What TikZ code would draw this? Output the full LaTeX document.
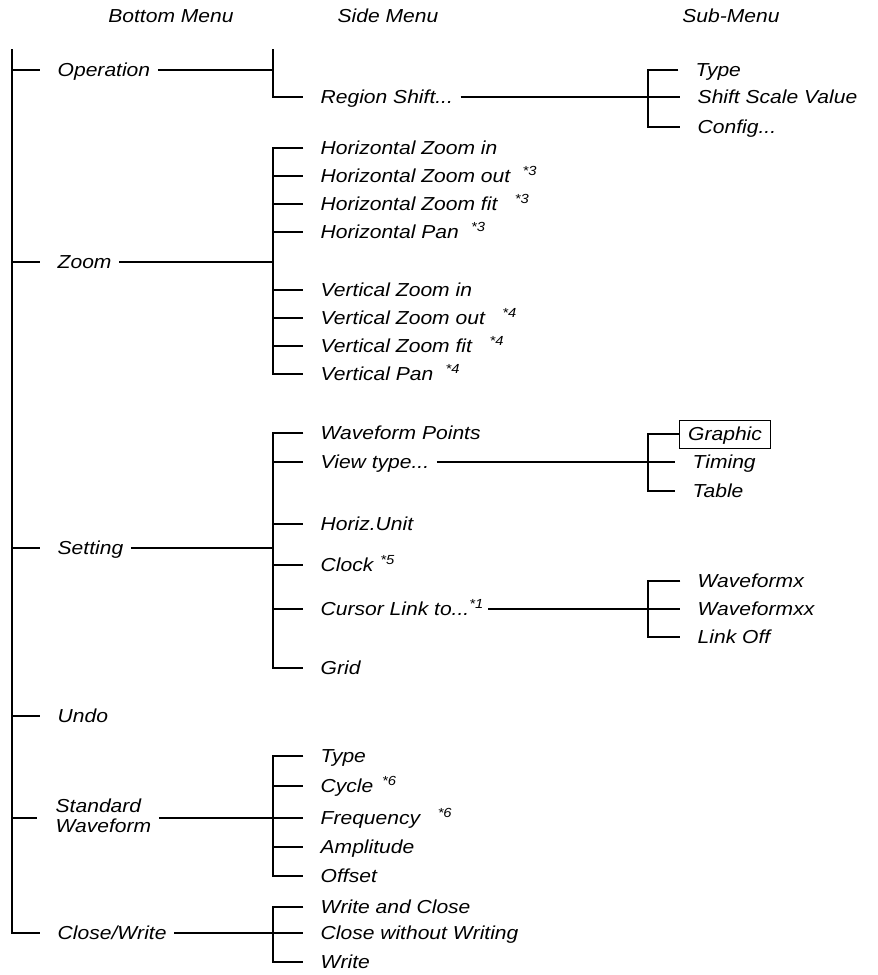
\documentclass[tikz,border=0pt]{standalone}
\usepackage{fontspec}
\usepackage{tikz}
\usetikzlibrary{positioning, calc}
\newfontfamily\menufont{Liberation Sans}[FakeStretch=1.12]
\newcommand{\fnmark}[1]{\textsuperscript{*#1}}

\begin{document}
\begin{tikzpicture}[
    x=0.02cm, y=-0.02cm,
    line width=0.8pt,
    menutext/.style={font=\menufont\itshape\fontsize{10.7}{12}\selectfont, inner xsep=0pt, inner ysep=1pt, text height=9pt, text depth=2pt, anchor=west},
    header/.style={menutext, anchor=center},
    twoline/.style={font=\menufont\itshape\fontsize{10.7}{11.4}\selectfont, inner sep=0pt, anchor=west},
    selbox/.style={menutext, draw, line width=0.5pt, inner xsep=5pt, inner ysep=2.5pt},
    tick/.style={shorten >=9.5pt},
    feed/.style={shorten <=4pt},
    bracket/.style={shorten <=9.5pt, shorten >=9.5pt},
]
    \useasboundingbox (0,0) rectangle (877,975);

    \node[header] (bmHead) at (171,16) {Bottom Menu};
    \node[header] (smHead) at (388,16) {Side Menu};
    \node[header] (subHead) at (731,16) {Sub-Menu};

    \node[menutext] (oper) at (57,70) {Operation};
    \node[menutext] (zoom) at (57,262) {Zoom};
    \node[menutext] (setting) at (57,548) {Setting};
    \node[menutext] (undo) at (57,716) {Undo};
    \node[twoline] (stdWave) at (55,818) {\begin{tabular}{@{}l@{}}Standard\\Waveform\end{tabular}};
    \node[menutext] (closeWr) at (57,933) {Close/Write};

    \node[menutext] (regShift) at (320,97) {Region Shift...};

    \node[menutext] (hzIn) at (320,148) {Horizontal Zoom in};
    \node[menutext] (hzOut) at (320,176) {Horizontal Zoom out\hspace{7pt}\fnmark{3}};
    \node[menutext] (hzFit) at (320,204) {Horizontal Zoom fit\hspace{10pt}\fnmark{3}};
    \node[menutext] (hzPan) at (320,232) {Horizontal Pan\hspace{7pt}\fnmark{3}};
    \node[menutext] (vzIn) at (320,290) {Vertical Zoom in};
    \node[menutext] (vzOut) at (320,318) {Vertical Zoom out\hspace{10pt}\fnmark{4}};
    \node[menutext] (vzFit) at (320,346) {Vertical Zoom fit\hspace{10pt}\fnmark{4}};
    \node[menutext] (vzPan) at (320,374) {Vertical Pan\hspace{7pt}\fnmark{4}};

    \node[menutext] (wfPoints) at (320,433) {Waveform Points};
    \node[menutext] (viewType) at (320,462) {View type...};
    \node[menutext] (horizUnit) at (320,524) {Horiz.Unit};
    \node[menutext] (clock) at (320,565) {Clock\hspace{4pt}\fnmark{5}};
    \node[menutext] (cursorLink) at (320,609) {Cursor Link to...\fnmark{1}};
    \node[menutext] (grid) at (320,668) {Grid};

    \node[menutext] (swType) at (320,756) {Type};
    \node[menutext] (swCycle) at (320,786) {Cycle\hspace{5pt}\fnmark{6}};
    \node[menutext] (swFreq) at (320,818) {Frequency\hspace{10pt}\fnmark{6}};
    \node[menutext] (swAmpl) at (320,847) {Amplitude};
    \node[menutext] (swOffset) at (320,876) {Offset};

    \node[menutext] (wrClose) at (320,907) {Write and Close};
    \node[menutext] (closeNoWr) at (320,933) {Close without Writing};
    \node[menutext] (write) at (320,962) {Write};

    \node[menutext] (rsType) at (695,70) {Type};
    \node[menutext] (rsShift) at (697,97) {Shift Scale Value};
    \node[menutext] (rsConfig) at (697,127) {Config...};

    \node[selbox] (vtGraphic) at (679,434) {Graphic};
    \node[menutext] (vtTiming) at (692,462) {Timing};
    \node[menutext] (vtTable) at (692,491) {Table};

    \node[menutext] (clWfx) at (697,581) {Waveformx};
    \node[menutext] (clWfxx) at (697,609) {Waveformxx};
    \node[menutext] (clOff) at (697,637) {Link Off};

    \coordinate (bTop) at (12,49);
    \coordinate (opTop) at (273,49);
    \coordinate (sx) at (273,0);
    \coordinate (ux) at (648,0);

    \draw[tick] (bTop) |- (closeWr.west);
    \draw[tick] (oper.west -| bTop) -- (oper.west);
    \draw[tick] (zoom.west -| bTop) -- (zoom.west);
    \draw[tick] (setting.west -| bTop) -- (setting.west);
    \draw[tick] (undo.west -| bTop) -- (undo.west);
    \draw[tick] (stdWave.west -| bTop) -- ([xshift=-1pt]stdWave.west);

    \draw[feed] (oper.east) -- (oper.east -| sx);
    \draw[tick] (opTop) |- (regShift.west);
    \draw[feed, tick] (regShift.east) -- (rsShift.west);
    \draw[bracket] (rsType.west) -- (rsType.west -| ux) -- (rsConfig.west -| ux) -- (rsConfig.west);

    \draw[feed] (zoom.east) -- (zoom.east -| sx);
    \draw[bracket] (hzIn.west) -- (hzIn.west -| sx) -- (vzPan.west -| sx) -- (vzPan.west);
    \draw[tick] (hzOut.west -| sx) -- (hzOut.west);
    \draw[tick] (hzFit.west -| sx) -- (hzFit.west);
    \draw[tick] (hzPan.west -| sx) -- (hzPan.west);
    \draw[tick] (vzIn.west -| sx) -- (vzIn.west);
    \draw[tick] (vzOut.west -| sx) -- (vzOut.west);
    \draw[tick] (vzFit.west -| sx) -- (vzFit.west);

    \draw[feed] (setting.east) -- (setting.east -| sx);
    \draw[bracket] (wfPoints.west) -- (wfPoints.west -| sx) -- (grid.west -| sx) -- (grid.west);
    \draw[tick] (viewType.west -| sx) -- (viewType.west);
    \draw[tick] (horizUnit.west -| sx) -- (horizUnit.west);
    \draw[tick] (clock.west -| sx) -- (clock.west);
    \draw[tick] (cursorLink.west -| sx) -- (cursorLink.west);

    \draw[feed, tick] (viewType.east) -- (vtTiming.west);
    \draw[shorten >=9.5pt] (vtGraphic.west) -- (vtGraphic.west -| ux) -- (vtTable.west -| ux) -- (vtTable.west);

    \draw[tick, shorten <=2pt] (cursorLink.east) -- (clWfxx.west);
    \draw[bracket] (clWfx.west) -- (clWfx.west -| ux) -- (clOff.west -| ux) -- (clOff.west);

    \draw[feed, tick] (stdWave.east) -- (swFreq.west);
    \draw[bracket] (swType.west) -- (swType.west -| sx) -- (swOffset.west -| sx) -- (swOffset.west);
    \draw[tick] (swCycle.west -| sx) -- (swCycle.west);
    \draw[tick] (swAmpl.west -| sx) -- (swAmpl.west);

    \draw[feed, tick] (closeWr.east) -- (closeNoWr.west);
    \draw[bracket] (wrClose.west) -- (wrClose.west -| sx) -- (write.west -| sx) -- (write.west);
\end{tikzpicture}
\end{document}
